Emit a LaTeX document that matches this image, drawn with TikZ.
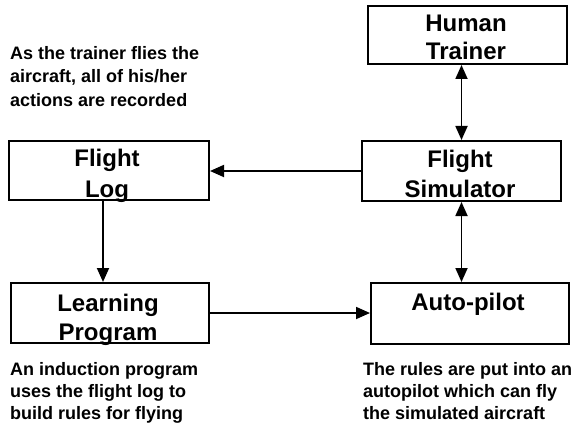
\documentclass[tikz,border=0pt]{standalone}
\usepackage{fontspec}
\setmainfont{Liberation Sans}
\usetikzlibrary{arrows.meta}
\begin{document}
\begin{tikzpicture}[x=1pt,y=1pt,
  box/.style={draw, line width=2pt, inner sep=0pt, rectangle},
  boxtext/.style={anchor=base, inner sep=0pt, font=\fontsize{24}{28}\selectfont\bfseries},
  note/.style={anchor=base west, inner sep=0pt, font=\fontsize{18}{22}\selectfont\bfseries},
  link/.style={line width=1.8pt, -{Triangle[length=14pt,width=12pt]}},
  twoway/.style={line width=1.8pt, {Triangle[length=14pt,width=12pt]}-{Triangle[length=14pt,width=12pt]}}]
\useasboundingbox (0,0) rectangle (578,440);

% boxes
\node[box, minimum width=199pt, minimum height=58pt] (ht) at (467.5,405) {};
\node[box, minimum width=199pt, minimum height=60pt] (fs) at (461.5,269) {};
\node[box, minimum width=200pt, minimum height=59pt] (fl) at (109,269.5) {};
\node[box, minimum width=198pt, minimum height=60pt] (lp) at (110,127) {};
\node[box, minimum width=198pt, minimum height=61pt] (ap) at (470,126.5) {};

% box labels
\node[boxtext] (ht1) at (466,408) {Human};
\node[boxtext] (ht2) at (466,380) {Trainer};
\node[boxtext] (fs1) at (460,273) {Flight};
\node[boxtext] (fs2) at (460,243) {Simulator};
\node[boxtext] (fl1) at (107,274) {Flight};
\node[boxtext] (fl2) at (107,243) {Log};
\node[boxtext] (lp1) at (108,129) {Learning};
\node[boxtext] (lp2) at (108,100) {Program};
\node[boxtext] (ap1) at (468,130) {Auto-pilot};

% connectors
\draw[twoway] (fs.north) -- (fs.north |- ht.south);
\draw[twoway] (fs.south) -- (fs.south |- ap.north);
\draw[link] (fs.west) -- (fs.west -| fl.east);
\draw[link] ([xshift=-6pt]fl.south) -- ([xshift=-6pt]fl.south |- lp.north);
\draw[link] (lp.east) -- (lp.east -| ap.west);

% notes
\foreach \t [count=\i] in {As the trainer flies the, {aircraft, all of his/her}, actions are recorded}
  \node[note] (na\i) at (10,403-23*\i) {\t};
\foreach \t [count=\i] in {An induction program, uses the flight log to, build rules for flying}
  \node[note] (nb\i) at (10,87-22*\i) {\t};
\foreach \t [count=\i] in {The rules are put into an, autopilot which can fly, the simulated aircraft}
  \node[note] (nc\i) at (363,87-22*\i) {\t};
\end{tikzpicture}
\end{document}
